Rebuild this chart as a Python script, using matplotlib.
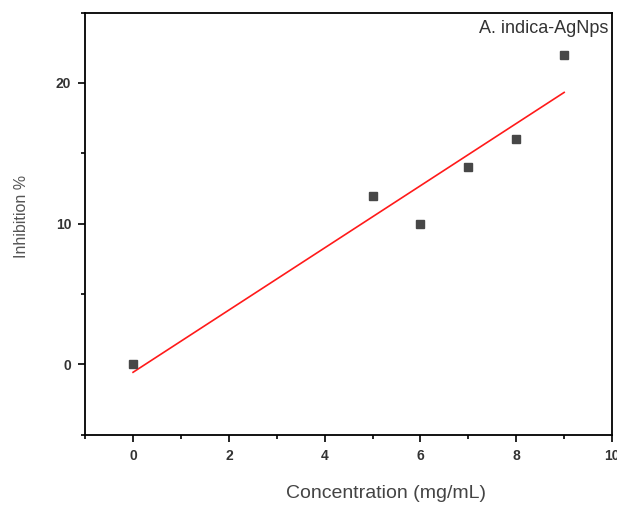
import numpy as np
import matplotlib
matplotlib.use("Agg")
import matplotlib.pyplot as plt
from matplotlib.ticker import MultipleLocator

# data
concentration = [0, 5, 6, 7, 8, 9]
inhibition = [0, 12, 10, 14, 16, 22]

plt.rcParams['font.family'] = ['Liberation Sans', 'DejaVu Sans']

fig = plt.figure(figsize=(6.17, 5.05), dpi=100)
ax = fig.add_axes([0.138, 0.139, 0.854, 0.836])

ax.plot(concentration, inhibition, 's', color='#474747', markersize=6, zorder=3)

# linear fit line
slope, intercept = np.polyfit(concentration, inhibition, 1)
xfit = np.array([min(concentration), max(concentration)])
ax.plot(xfit, slope * xfit + intercept, color='#ff1a1a', linewidth=1.2, zorder=2)

ax.set_xlim(-1, 10)
ax.set_ylim(-5, 25)
ax.xaxis.set_major_locator(MultipleLocator(2))
ax.xaxis.set_minor_locator(MultipleLocator(1))
ax.yaxis.set_major_locator(MultipleLocator(10))
ax.yaxis.set_minor_locator(MultipleLocator(5))

ax.tick_params(which='both', direction='out', top=False, right=False,
               labelsize=10, labelcolor='#333333', width=1.2)
ax.tick_params(which='major', length=5, pad=5)
ax.tick_params(which='minor', length=3)
for lbl in ax.get_xticklabels() + ax.get_yticklabels():
    lbl.set_fontweight('bold')
for s in ax.spines.values():
    s.set_linewidth(1.3)

ax.set_xlabel('Concentration (mg/mL)', fontsize=14, color='#444444')
ax.xaxis.set_label_coords(0.571, -0.12)
ax.set_ylabel('Inhibition %', fontsize=11.5, color='#555555')
ax.yaxis.set_label_coords(-0.106, 0.517)

ax.text(0.993, 0.983, 'A. indica-AgNps', transform=ax.transAxes,
        ha='right', va='top', fontsize=13, color='#333333')

fig.savefig('out.png', dpi=100)
